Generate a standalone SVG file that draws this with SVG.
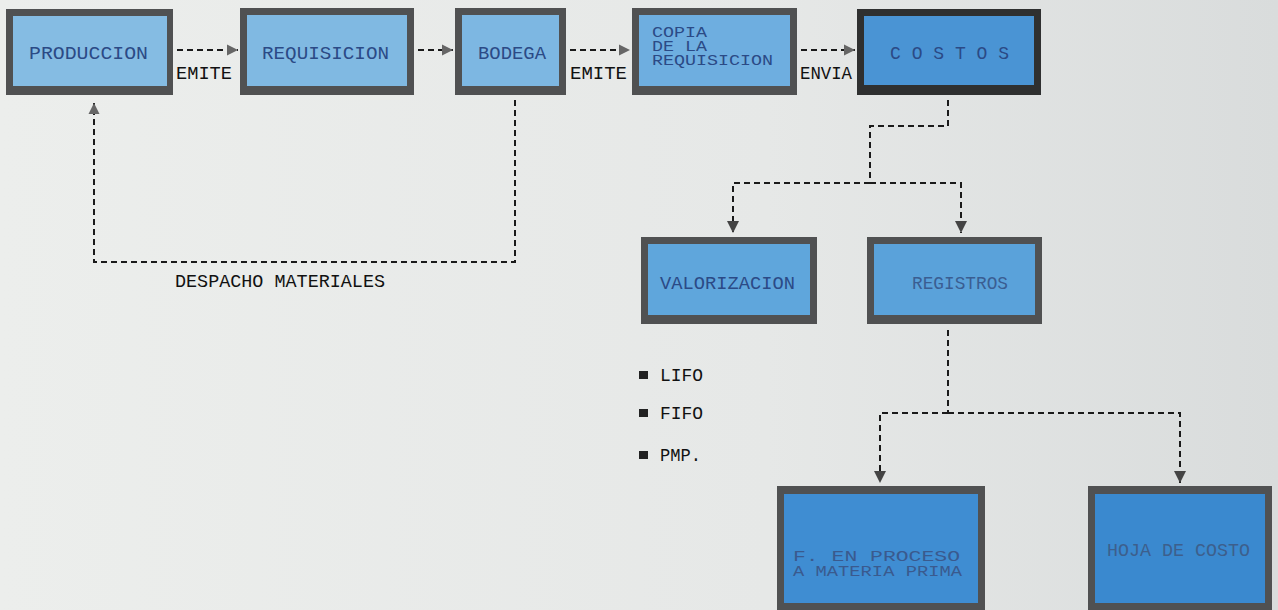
<svg xmlns="http://www.w3.org/2000/svg" width="1278" height="610" viewBox="0 0 1278 610">
<defs>
<linearGradient id="bg" x1="0" y1="0" x2="1" y2="0">
<stop offset="0" stop-color="#eceeec"/>
<stop offset="0.6" stop-color="#e6e8e7"/>
<stop offset="1" stop-color="#d9dcdc"/>
</linearGradient>
<marker id="ah" viewBox="0 0 10 10" refX="10" refY="5" markerWidth="11" markerHeight="12" markerUnits="userSpaceOnUse" orient="auto">
<path d="M0,0 L10,5 L0,10 Z" fill="#666"/>
</marker>
<marker id="ahd" viewBox="0 0 10 10" refX="10" refY="5" markerWidth="12" markerHeight="12" markerUnits="userSpaceOnUse" orient="auto">
<path d="M0,0 L10,5 L0,10 Z" fill="#444"/>
</marker>
</defs>
<style>
.frame{fill:#505152;}
.t{font-family:"Liberation Mono","DejaVu Sans Mono",monospace;font-size:19px;fill:#2b4a86;}
.s{font-size:14px;}
.lbl{font-family:"Liberation Mono","DejaVu Sans Mono",monospace;font-size:19px;fill:#111;}
.c{fill:none;stroke:#1a1a1a;stroke-width:2;stroke-dasharray:6 4;}
.bul{fill:#222;}
</style>
<rect x="0" y="0" width="1278" height="610" fill="url(#bg)"/>

<g id="connectors">
<path class="c" d="M177,50 H238" marker-end="url(#ah)"/>
<path class="c" d="M418,50 H453" marker-end="url(#ah)"/>
<path class="c" d="M570,50 H630" marker-end="url(#ah)"/>
<path class="c" d="M801,50 H855" marker-end="url(#ah)"/>
<path class="c" d="M515,100 V262 H94 V103" marker-end="url(#ah)"/>
<path class="c" d="M948,100 V126 H870 V183"/>
<path class="c" d="M870,183 H733 V233" marker-end="url(#ahd)"/>
<path class="c" d="M870,183 H961 V233" marker-end="url(#ahd)"/>
<path class="c" d="M948,330 V413"/>
<path class="c" d="M948,413 H880 V483" marker-end="url(#ahd)"/>
<path class="c" d="M948,413 H1180 V483" marker-end="url(#ahd)"/>
<text class="lbl" x="176" y="79" textLength="56" lengthAdjust="spacingAndGlyphs">EMITE</text>
<text class="lbl" x="570" y="79" textLength="57" lengthAdjust="spacingAndGlyphs">EMITE</text>
<text class="lbl" x="800" y="79" textLength="52" lengthAdjust="spacingAndGlyphs">ENVIA</text>
<text class="lbl" x="175" y="287" textLength="210" lengthAdjust="spacingAndGlyphs">DESPACHO MATERIALES</text>
</g>

<g id="produccion">
<rect class="frame" x="6" y="9" width="167" height="86"/>
<rect x="13" y="16" width="154" height="70" fill="#85bce3"/>
<text class="t" x="29" y="59" textLength="119" lengthAdjust="spacingAndGlyphs">PRODUCCION</text>
</g>

<g id="requisicion">
<rect class="frame" x="240" y="8" width="174" height="87"/>
<rect x="247" y="15" width="160" height="71" fill="#80b9e2"/>
<text class="t" x="262" y="59" textLength="127" lengthAdjust="spacingAndGlyphs">REQUISICION</text>
</g>

<g id="bodega">
<rect class="frame" x="455" y="8" width="111" height="87"/>
<rect x="462" y="15" width="97" height="71" fill="#7db7e2"/>
<text class="t" x="478" y="59" textLength="68" lengthAdjust="spacingAndGlyphs">BODEGA</text>
</g>

<g id="copia">
<rect class="frame" x="632" y="8" width="165" height="87"/>
<rect x="639" y="15" width="151" height="71" fill="#6eaee0"/>
<text class="t s" x="652" y="37" textLength="55" lengthAdjust="spacingAndGlyphs">COPIA</text>
<text class="t s" x="652" y="51" textLength="55" lengthAdjust="spacingAndGlyphs">DE LA</text>
<text class="t s" x="652" y="65" textLength="121" lengthAdjust="spacingAndGlyphs">REQUISICION</text>
</g>

<g id="costos">
<rect class="frame" x="857" y="9" width="184" height="86" style="fill:#2f3030"/>
<rect x="864" y="16" width="170" height="69" fill="#4a94d4"/>
<text class="t" x="890" y="59" textLength="119" lengthAdjust="spacingAndGlyphs">C O S T O S</text>
</g>

<g id="valorizacion">
<rect class="frame" x="641" y="237" width="176" height="87"/>
<rect x="648" y="244" width="162" height="71" fill="#5fa6dc"/>
<text class="t" x="660" y="289" textLength="135" lengthAdjust="spacingAndGlyphs">VALORIZACION</text>
</g>

<g id="registros">
<rect class="frame" x="867" y="237" width="175" height="87"/>
<rect x="874" y="244" width="161" height="71" fill="#5aa2da"/>
<text class="t" x="912" y="289" textLength="96" lengthAdjust="spacingAndGlyphs" style="fill:#3a5e92">REGISTROS</text>
</g>

<g id="metodos">
<rect class="bul" x="639" y="371" width="9" height="8"/>
<rect class="bul" x="639" y="409" width="9" height="8"/>
<rect class="bul" x="639" y="451" width="9" height="8"/>
<text class="lbl" x="660" y="381" textLength="43" lengthAdjust="spacingAndGlyphs">LIFO</text>
<text class="lbl" x="660" y="419" textLength="43" lengthAdjust="spacingAndGlyphs">FIFO</text>
<text class="lbl" x="660" y="461" textLength="41" lengthAdjust="spacingAndGlyphs">PMP.</text>
</g>

<g id="proceso">
<rect class="frame" x="777" y="486" width="208" height="124"/>
<rect x="784" y="494" width="194" height="109" fill="#3f8dd2"/>
<text class="t s" x="793" y="561" textLength="167" lengthAdjust="spacingAndGlyphs" style="fill:#3a5a8e">F. EN PROCESO</text>
<text class="t s" x="793" y="576" textLength="169" lengthAdjust="spacingAndGlyphs" style="fill:#3a5a8e">A MATERIA PRIMA</text>
</g>

<g id="hoja">
<rect class="frame" x="1088" y="486" width="184" height="124"/>
<rect x="1095" y="494" width="170" height="109" fill="#3a89cf"/>
<text class="t" x="1107" y="556" textLength="143" lengthAdjust="spacingAndGlyphs" style="fill:#3d5f8c">HOJA DE COSTO</text>
</g>
</svg>
